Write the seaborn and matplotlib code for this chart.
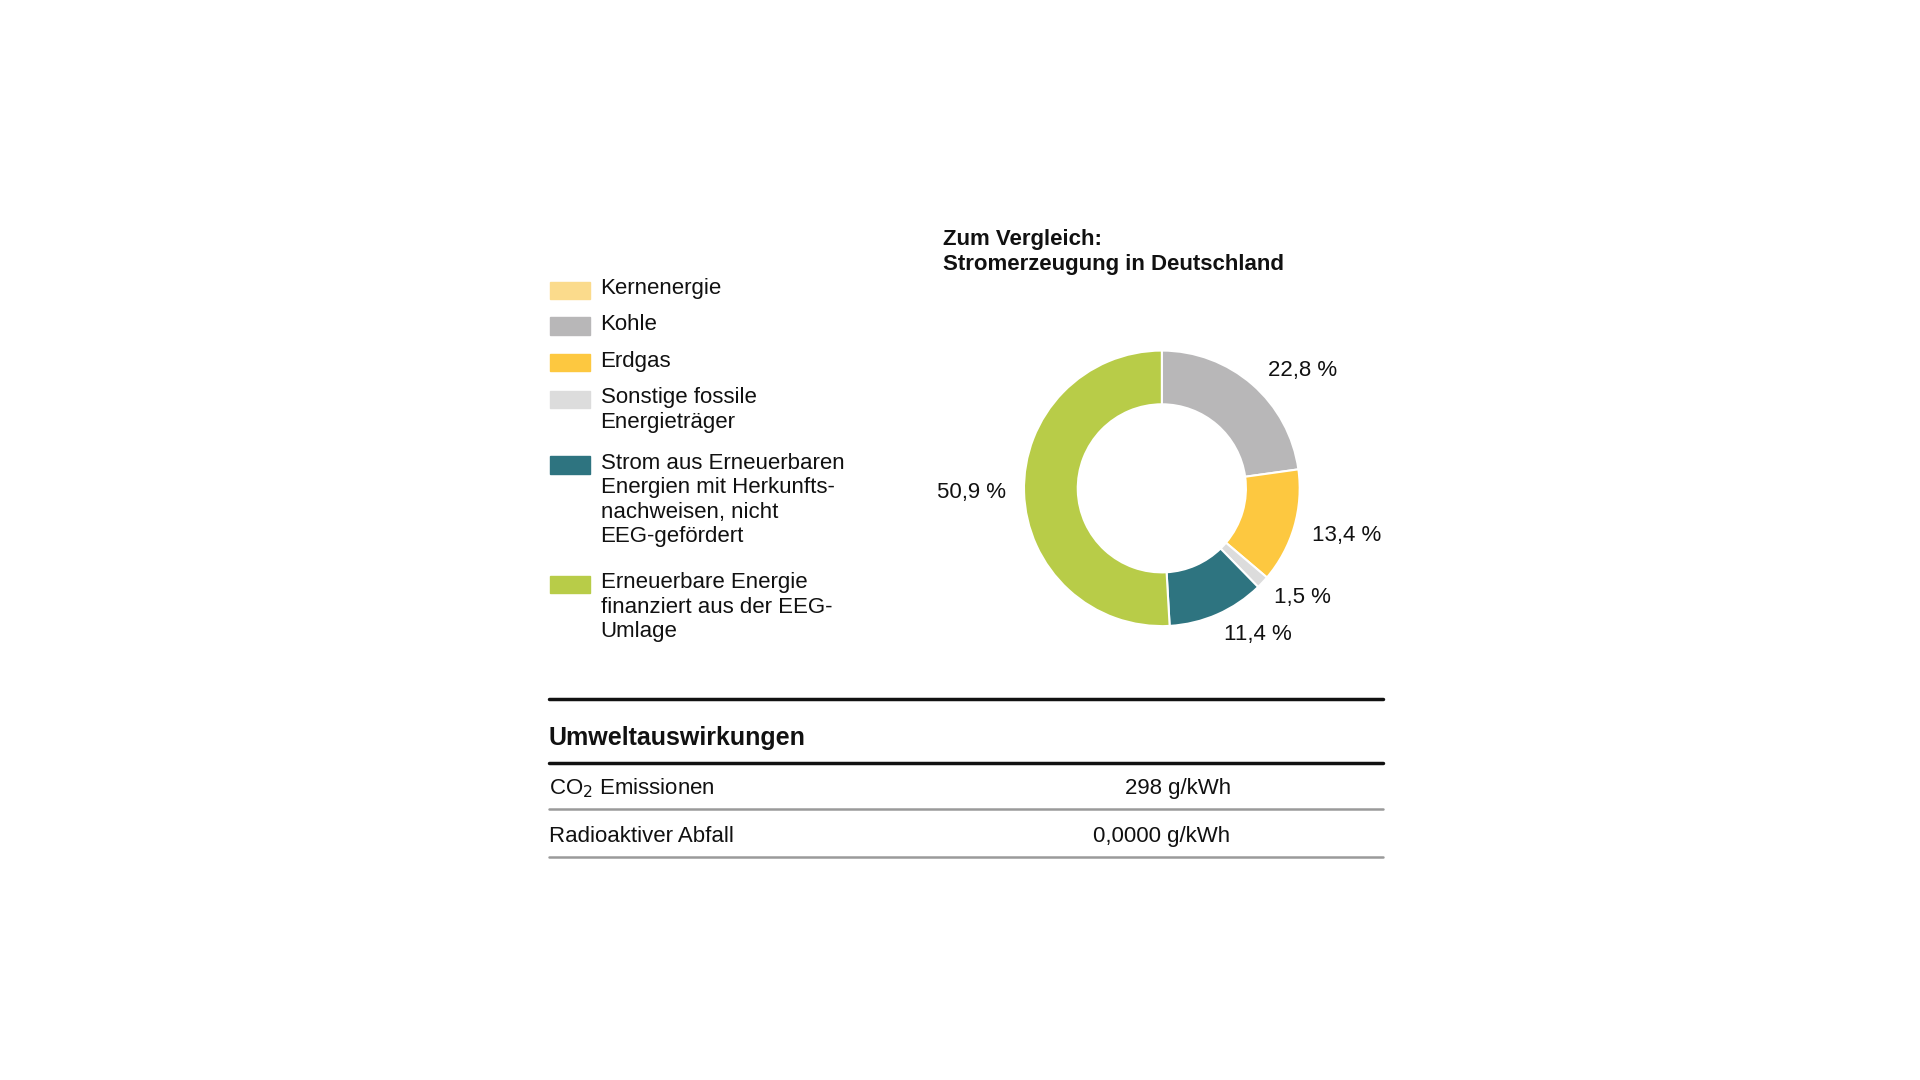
import matplotlib
matplotlib.use("Agg")
import matplotlib.pyplot as plt
import seaborn as sns

sns.set_theme(style="white")
plt.rcParams["font.family"] = ["Liberation Sans", "DejaVu Sans"]

# --- data ---
categories = ["Kernenergie", "Kohle", "Erdgas", "Sonstige fossile\nEnergieträger",
              "Strom aus Erneuerbaren\nEnergien mit Herkunfts-\nnachweisen, nicht\nEEG-gefördert",
              "Erneuerbare Energie\nfinanziert aus der EEG-\nUmlage"]
shares = [0.0, 22.8, 13.4, 1.5, 11.4, 50.9]
colors = ["#FBDB8C", "#B8B7B8", "#FDC840", "#DCDCDC", "#2E7480", "#B8CC48"]
share_labels = ["", "22,8 %", "13,4 %", "1,5 %", "11,4 %", "50,9 %"]
impact_rows = ["CO$_2$ Emissionen", "Radioaktiver Abfall"]
impact_values = ["298 g/kWh", "0,0000 g/kWh"]

W, H = 1560.0, 878.0  # reference layout grid


def fx(x):
    return x / W


def fy(y):
    return 1 - y / H


fig = plt.figure(figsize=(19.2, 10.8), dpi=100)

# --- donut ---
r = 112
ax = fig.add_axes([fx(944 - r), fy(397 + r), 2 * r / W, 2 * r / H])
ax.pie(shares, colors=colors, startangle=90, counterclock=False,
       wedgeprops=dict(width=0.39, edgecolor="white", linewidth=1.5))
ax.set_aspect("auto")
ax.set_xlim(-1, 1)
ax.set_ylim(-1, 1)
ax.axis("off")

label_pos = [None, (1058, 301), (1094, 435), (1058, 486), (1022, 516), (789, 400)]
for lab, pos in zip(share_labels, label_pos):
    if pos:
        fig.text(fx(pos[0]), fy(pos[1]), lab, ha="center", va="center", fontsize=16, color="#111111")

fig.text(fx(766), fy(193), "Zum Vergleich:\nStromerzeugung in Deutschland", ha="left", va="center",
         fontsize=16, fontweight="bold", linespacing=1.25, color="#111111")
fig.texts[-1].set_position((fx(766), fy(205)))

# --- legend ---
legend_y = [236, 265, 295, 325, 378, 475]
for cat, col, y in zip(categories, colors, legend_y):
    fig.patches.append(plt.Rectangle((fx(447), fy(y + 7)), 32 / W, 14 / H,
                                     transform=fig.transFigure, color=col))
    fig.text(fx(488), fy(y), cat, ha="left", va="top", fontsize=16, linespacing=1.22,
             color="#111111", transform=fig.transFigure).set_position((fx(488), fy(y - 10)))

# --- impact table ---
def hline(y, color, lw):
    fig.add_artist(plt.Line2D([fx(446), fx(1124)], [fy(y), fy(y)], color=color, lw=lw,
                              transform=fig.transFigure))


hline(568, "#111111", 2.5)
fig.text(fx(446), fy(600), "Umweltauswirkungen", ha="left", va="center", fontsize=18,
         fontweight="bold", color="#111111")
hline(620, "#111111", 2.5)
row_y = [641, 680]
value_x = [957, 944]
for name, val, y, vx in zip(impact_rows, impact_values, row_y, value_x):
    fig.text(fx(446), fy(y), name, ha="left", va="center", fontsize=16, color="#111111")
    fig.text(fx(vx), fy(y), val, ha="center", va="center", fontsize=16, color="#111111")
    hline(y + 17, "#9a9a9a", 1.8)

fig.savefig("out.png", dpi=100, facecolor="white")
